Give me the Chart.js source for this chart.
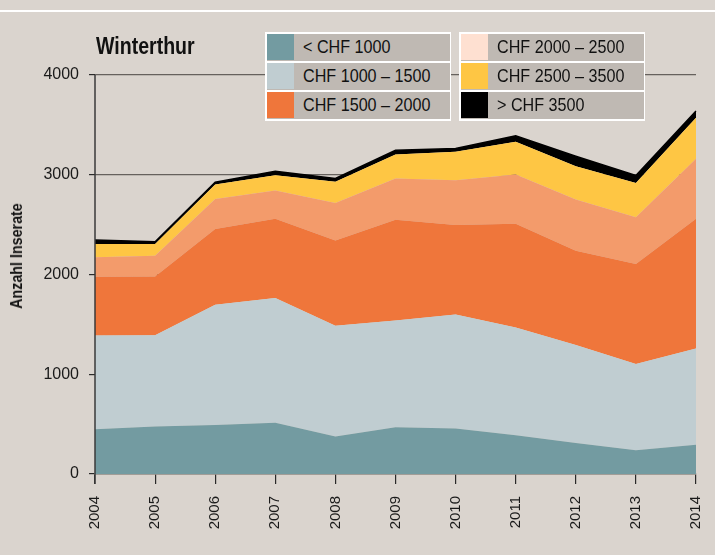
<!DOCTYPE html>
<html>
<head>
<meta charset="utf-8">
<script src="https://cdn.jsdelivr.net/npm/chart.js@4.4.1/dist/chart.umd.min.js"></script>
<style>
  html, body { margin: 0; padding: 0; background: #dad4ce; }
  #wrap { position: relative; width: 715px; height: 555px; overflow: hidden; }
  #chart { position: absolute; left: 0; top: 0; }
  #rule { position: absolute; left: 0; top: 10px; width: 715px; height: 2px; background: #fff; }
  /* no narrow font installed, so squeeze Liberation Sans a bit */
  #title { position: absolute; left: 96px; top: 33px; font: bold 23px "Liberation Sans", Arial, sans-serif; color: #111;
           transform: scaleX(0.85); transform-origin: 0 0; white-space: nowrap; }
  #ytitle { position: absolute; left: 17px; top: 256px; transform: translate(-50%, -50%) rotate(-90deg) scaleX(0.84);
            font: bold 17px "Liberation Sans", Arial, sans-serif; color: #111; white-space: nowrap; }
  #legend { position: absolute; left: 265px; top: 32px; display: flex; gap: 8px; }
  .col { width: 186px; box-sizing: border-box; padding: 1.5px; background: #fff; display: flex; flex-direction: column; gap: 1.5px; }
  .item { height: 27.5px; background: #bfb9b3; display: flex; align-items: center; overflow: hidden;
          font: 19px "Liberation Sans", Arial, sans-serif; color: #111; white-space: nowrap; }
  .item .txt { display: inline-block; transform: scaleX(0.85); transform-origin: 0 50%; }
  .sw { width: 27px; height: 26px; margin-right: 9px; flex: none; }
</style>
</head>
<body>
<div id="wrap">
  <canvas id="chart" width="715" height="555"></canvas>
  <div id="rule"></div>
  <div id="title">Winterthur</div>
  <div id="ytitle">Anzahl Inserate</div>
  <div id="legend"></div>
</div>
<script>
  // Inserate nach Mietpreis, Winterthur
  var years = ['2004', '2005', '2006', '2007', '2008', '2009', '2010', '2011', '2012', '2013', '2014'];

  var seriesNames = ['< CHF 1000', 'CHF 1000 – 1500', 'CHF 1500 – 2000', 'CHF 2000 – 2500', 'CHF 2500 – 3500', '> CHF 3500'];

  var under1000 = [449, 475, 492, 515, 375, 469, 455, 388, 311, 238, 294];
  var from1000  = [940, 917, 1205, 1249, 1111, 1071, 1145, 1081, 981, 866, 964];
  var from1500  = [589, 589, 760, 796, 856, 1010, 897, 1041, 947, 1001, 1302];
  var from2000  = [194, 208, 301, 281, 376, 412, 448, 492, 512, 468, 600];
  var from2500  = [134, 117, 144, 154, 211, 241, 285, 328, 334, 345, 411];
  var over3500  = [40, 23, 23, 40, 34, 43, 34, 60, 101, 74, 67];

  var yTicks = [0, 1000, 2000, 3000, 4000];

  var fillColors = ['#739ba1', '#c0cdd1', '#ef763b', '#f39b6b', '#fec644', '#000000'];
  var swatchColors = ['#739ba1', '#c0cdd1', '#ef763b', '#fee0d1', '#fec644', '#000000'];

  var seriesData = [under1000, from1000, from1500, from2000, from2500, over3500];

  // legend, two columns of three
  var legend = document.getElementById('legend');
  for (var c = 0; c < 2; c++) {
    var col = document.createElement('div');
    col.className = 'col';
    for (var r = 0; r < 3; r++) {
      var i = c * 3 + r;
      var item = document.createElement('div');
      item.className = 'item';
      var sw = document.createElement('span');
      sw.className = 'sw';
      sw.style.background = swatchColors[i];
      var txt = document.createElement('span');
      txt.className = 'txt';
      txt.textContent = seriesNames[i];
      item.appendChild(sw);
      item.appendChild(txt);
      col.appendChild(item);
    }
    legend.appendChild(col);
  }

  var datasets = seriesData.map(function(d, i) {
    var last = i === seriesData.length - 1;
    return {
      label: seriesNames[i],
      data: d,
      backgroundColor: fillColors[i],
      borderColor: last ? '#000' : 'transparent',
      borderWidth: last ? 1.5 : 0,
      pointRadius: 0,
      tension: 0,
      fill: i === 0 ? 'origin' : '-1'
    };
  });

  // left axis line on top of the areas
  var axisLine = {
    id: 'axisLine',
    afterDatasetsDraw: function(chart) {
      var a = chart.chartArea, ctx = chart.ctx;
      ctx.save();
      ctx.strokeStyle = '#3a3a3a';
      ctx.lineWidth = 1.5;
      ctx.beginPath();
      ctx.moveTo(a.left, a.top);
      ctx.lineTo(a.left, a.bottom + 10);
      ctx.stroke();
      ctx.restore();
    }
  };

  new Chart(document.getElementById('chart').getContext('2d'), {
    type: 'line',
    data: { labels: years, datasets: datasets },
    plugins: [axisLine],
    options: {
      responsive: false,
      animation: false,
      devicePixelRatio: 1,
      layout: { padding: { left: 0, right: 19, top: 75, bottom: 0 } },
      plugins: { legend: { display: false }, tooltip: { enabled: false }, title: { display: false } },
      scales: {
        x: {
          offset: false,
          grid: { display: true, drawOnChartArea: false, tickLength: 10, tickColor: '#2a2a2a', lineWidth: 1.2 },
          border: { display: true, color: '#8a847f', width: 1.5 },
          ticks: {
            minRotation: 90, maxRotation: 90, padding: 12, color: '#1a1a1a',
            font: { family: '"Liberation Sans", Arial, sans-serif', size: 15 }
          },
          afterFit: function(s) { s.height = 81; s.paddingLeft = 0; s.paddingRight = 0; }
        },
        y: {
          stacked: true,
          min: 0,
          max: 4000,
          afterBuildTicks: function(s) { s.ticks = yTicks.map(function(v) { return { value: v }; }); },
          grid: { color: '#66615d', lineWidth: 1.2, tickLength: 6, tickColor: '#2a2a2a' },
          border: { display: false },
          ticks: {
            padding: 10, color: '#1a1a1a',
            font: { family: '"Liberation Sans", Arial, sans-serif', size: 16 },
            callback: function(v) { return String(v); }
          },
          afterFit: function(s) { s.width = 95; s.paddingTop = 0; s.paddingBottom = 0; }
        }
      }
    }
  });
</script>
</body>
</html>
